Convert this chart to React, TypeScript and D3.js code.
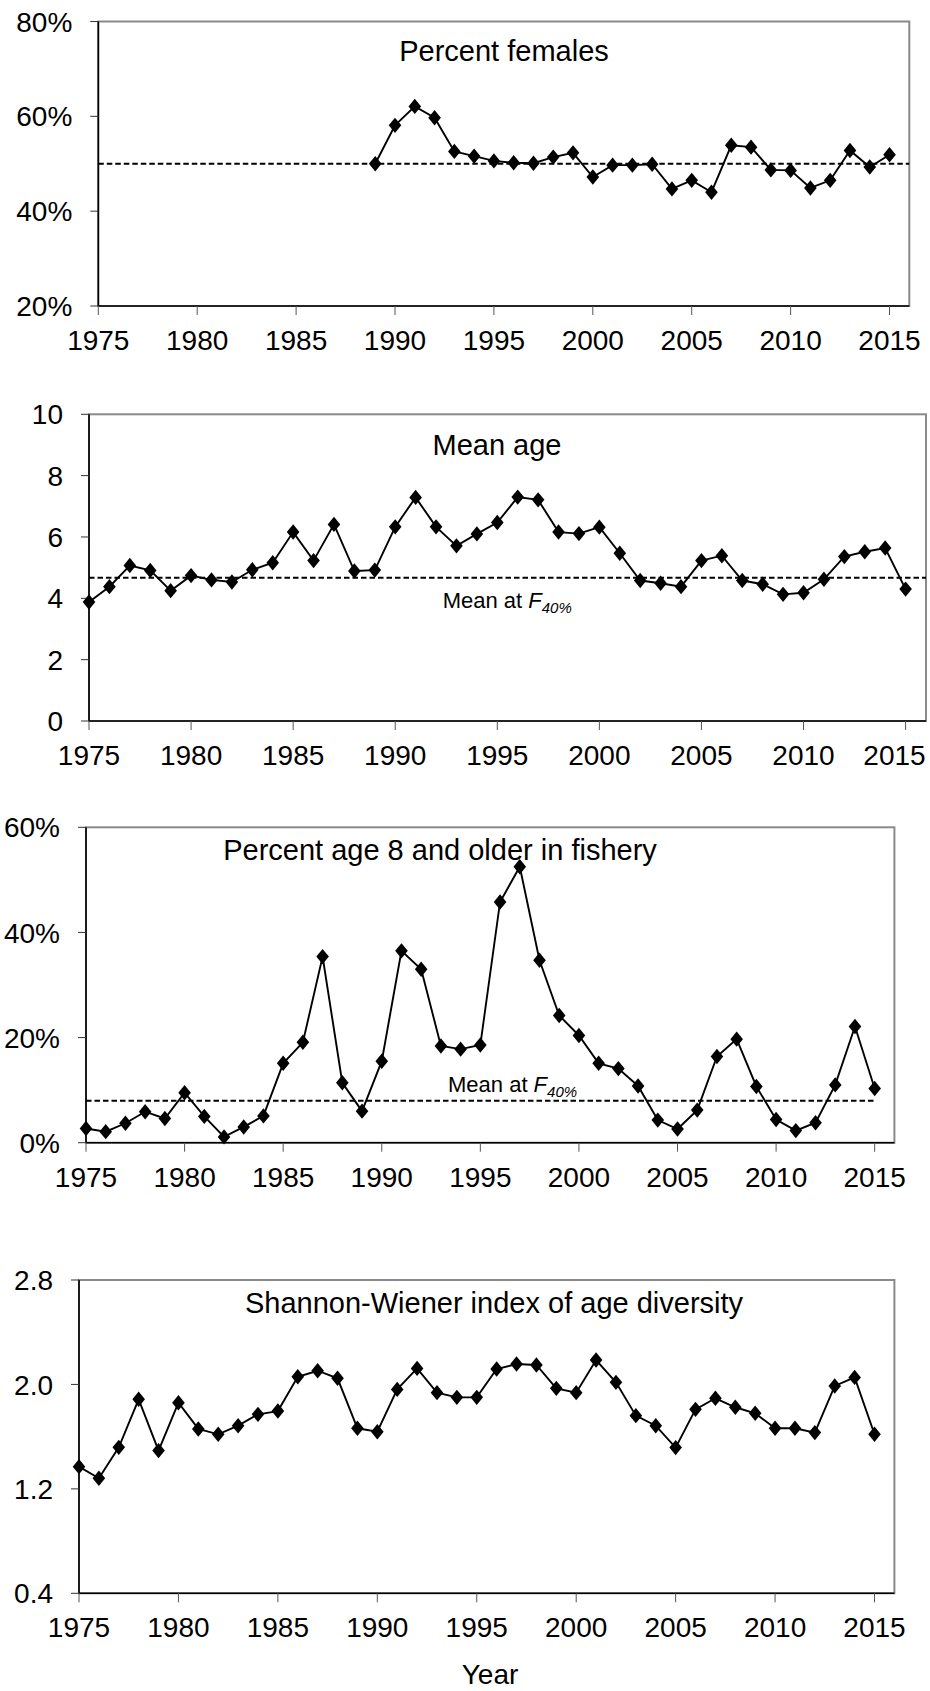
import React from "react";
import * as d3 from "d3";

const years = [1975, 1976, 1977, 1978, 1979, 1980, 1981, 1982, 1983, 1984, 1985, 1986, 1987, 1988, 1989, 1990, 1991, 1992, 1993, 1994, 1995, 1996, 1997, 1998, 1999, 2000, 2001, 2002, 2003, 2004, 2005, 2006, 2007, 2008, 2009, 2010, 2011, 2012, 2013, 2014, 2015];
const xTickYears = [1975, 1980, 1985, 1990, 1995, 2000, 2005, 2010, 2015];

const femaleYears = [1989, 1990, 1991, 1992, 1993, 1994, 1995, 1996, 1997, 1998, 1999, 2000, 2001, 2002, 2003, 2004, 2005, 2006, 2007, 2008, 2009, 2010, 2011, 2012, 2013, 2014, 2015];
const percentFemales = [50.0, 58.1, 62.1, 59.7, 52.6, 51.6, 50.6, 50.2, 50.1, 51.4, 52.3, 47.2, 49.7, 49.7, 49.9, 44.7, 46.5, 44.0, 53.9, 53.5, 48.7, 48.6, 44.9, 46.5, 52.8, 49.3, 51.9];
const femalesRef = 50;

const meanAge = [3.88, 4.38, 5.07, 4.91, 4.25, 4.74, 4.60, 4.53, 4.93, 5.16, 6.16, 5.23, 6.41, 4.89, 4.92, 6.33, 7.29, 6.33, 5.71, 6.10, 6.47, 7.30, 7.21, 6.16, 6.11, 6.32, 5.47, 4.58, 4.49, 4.38, 5.23, 5.39, 4.58, 4.46, 4.13, 4.18, 4.62, 5.36, 5.52, 5.64, 4.30];
const meanAgeRef = 4.67;

const pctAge8 = [2.7, 2.1, 3.7, 5.9, 4.6, 9.5, 5.0, 1.1, 3.0, 5.1, 15.1, 19.1, 35.4, 11.4, 6.0, 15.5, 36.5, 33.0, 18.4, 17.8, 18.6, 45.8, 52.5, 34.7, 24.2, 20.4, 15.1, 14.1, 10.8, 4.3, 2.6, 6.2, 16.4, 19.7, 10.7, 4.4, 2.3, 3.8, 11.0, 22.1, 10.3];
const pctAge8Ref = 8;

const shannon = [1.370, 1.281, 1.518, 1.886, 1.493, 1.860, 1.659, 1.618, 1.684, 1.771, 1.796, 2.059, 2.105, 2.047, 1.664, 1.638, 1.962, 2.123, 1.937, 1.901, 1.901, 2.118, 2.156, 2.149, 1.970, 1.937, 2.187, 2.016, 1.761, 1.684, 1.516, 1.809, 1.894, 1.825, 1.779, 1.664, 1.664, 1.631, 1.988, 2.054, 1.618];

const ticksFemales = [20, 40, 60, 80];
const ticksAge = [0, 2, 4, 6, 8, 10];
const ticksAge8 = [0, 20, 40, 60];
const ticksShannon = [0.4, 1.2, 2.0, 2.8];

const FONT = "'Liberation Sans', Arial, Helvetica, sans-serif";
const PAGE_W = 930;

type PanelProps = {
  left: number; right: number; top: number; bottom: number;
  xs: number[]; ys: number[];
  yDomain: [number, number]; yTicks: number[];
  fmt: (v: number) => string;
  title: string; titleX: number; titleY: number;
  refValue?: number; refToEnd?: boolean;
  refLabel?: { x: number; y: number };
};

function Diamond({ x, y }: { x: number; y: number }) {
  const w = 6.3, h = 7.7;
  return <path d={`M${x},${y - h}L${x + w},${y}L${x},${y + h}L${x - w},${y}Z`} fill="#000" />;
}

function Panel(p: PanelProps) {
  const x = d3.scaleLinear().domain([1975, 2016]).range([p.left, p.right]);
  const y = d3.scaleLinear().domain(p.yDomain).range([p.bottom, p.top]);
  const line = d3.line<number>().x((_, i) => x(p.xs[i])).y((v) => y(v));
  const refEnd = p.refToEnd ? x(2015) : p.right;
  const halfLabel = 31.5;
  return (
    <g>
      <rect x={p.left} y={p.top} width={p.right - p.left} height={p.bottom - p.top} fill="none" stroke="#8a8a8a" strokeWidth={2} />
      {p.refValue !== undefined && (
        <line x1={p.left} x2={refEnd} y1={y(p.refValue)} y2={y(p.refValue)} stroke="#000" strokeWidth={2} strokeDasharray="5.5,3" />
      )}
      <line x1={p.left} x2={p.left} y1={p.top} y2={p.bottom} stroke="#000" strokeWidth={1.6} />
      <line x1={p.left} x2={p.right} y1={p.bottom} y2={p.bottom} stroke="#000" strokeWidth={1.6} />
      {p.yTicks.map((t) => (
        <g key={"y" + t}>
          <line x1={p.left - 8} x2={p.left} y1={y(t)} y2={y(t)} stroke="#333" strokeWidth={1} />
          <text x={p.left - 26} y={y(t)} dy="0.36em" textAnchor="end" fontSize={28} fontFamily={FONT}>{p.fmt(t)}</text>
        </g>
      ))}
      {xTickYears.map((t) => {
        const lx = Math.min(x(t), PAGE_W - 4 - halfLabel);
        return (
          <g key={"x" + t}>
            <line x1={x(t)} x2={x(t)} y1={p.bottom} y2={p.bottom + 9} stroke="#555" strokeWidth={1} />
            <text x={lx} y={p.bottom + 44} textAnchor="middle" fontSize={28} fontFamily={FONT}>{t}</text>
          </g>
        );
      })}
      <path d={line(p.ys) || ""} fill="none" stroke="#000" strokeWidth={1.9} />
      {p.ys.map((v, i) => <Diamond key={i} x={x(p.xs[i])} y={y(v)} />)}
      <text x={p.titleX} y={p.titleY} textAnchor="middle" fontSize={29} fontFamily={FONT}>{p.title}</text>
      {p.refLabel && (
        <text x={p.refLabel.x} y={p.refLabel.y} fontSize={22} fontFamily={FONT}>
          Mean at <tspan fontStyle="italic">F</tspan>
          <tspan fontStyle="italic" fontSize={15} dy={5}>40%</tspan>
        </text>
      )}
    </g>
  );
}

export default function App() {
  const pct = (v: number) => `${v}%`;
  const dec = (v: number) => v.toFixed(1);
  const int = (v: number) => `${v}`;
  return (
    <svg width={930} height={1691} style={{ position: "absolute", left: 0, top: 0, background: "#fff" }}>
      <rect width={930} height={1691} fill="#fff" />
      <Panel left={98.3} right={909.3} top={21.5} bottom={306} xs={femaleYears} ys={percentFemales}
        yDomain={[20, 80]} yTicks={ticksFemales} fmt={pct}
        title="Percent females" titleX={504} titleY={61} refValue={femalesRef} />
      <Panel left={89} right={926} top={414.3} bottom={721} xs={years} ys={meanAge}
        yDomain={[0, 10]} yTicks={ticksAge} fmt={int}
        title="Mean age" titleX={497} titleY={455} refValue={meanAgeRef}
        refLabel={{ x: 442.7, y: 608 }} />
      <Panel left={86} right={894.4} top={827.3} bottom={1142.7} xs={years} ys={pctAge8}
        yDomain={[0, 60]} yTicks={ticksAge8} fmt={pct}
        title="Percent age 8 and older in fishery" titleX={440} titleY={860} refValue={pctAge8Ref} refToEnd
        refLabel={{ x: 448, y: 1091.5 }} />
      <Panel left={79} right={894.4} top={1280} bottom={1593.3} xs={years} ys={shannon}
        yDomain={[0.4, 2.8]} yTicks={ticksShannon} fmt={dec}
        title="Shannon-Wiener index of age diversity" titleX={494} titleY={1313} />
      <text x={490} y={1684} textAnchor="middle" fontSize={28} fontFamily={FONT}>Year</text>
    </svg>
  );
}
